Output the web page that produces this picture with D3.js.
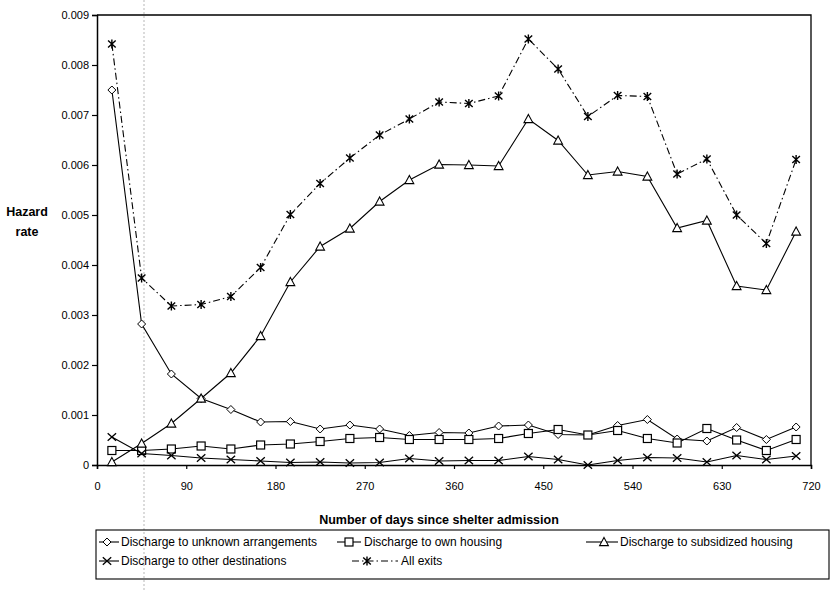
<!DOCTYPE html>
<html>
<head>
<meta charset="utf-8">
<script src="https://cdn.jsdelivr.net/npm/d3@7"></script>
<style>
  body { margin: 0; background: #fff; }
  svg { display: block; font-family: "Liberation Sans", Arial, sans-serif; }
</style>
</head>
<body>
<svg id="chart" width="834" height="590"></svg>
<script>
// Interval midpoints (days since shelter admission)
const days = [15, 45, 75, 105, 135, 165, 195, 225, 255, 285, 315, 345,
              375, 405, 435, 465, 495, 525, 555, 585, 615, 645, 675, 705];

// Hazard rates by exit type
const unknownArrangements = [0.0075, 0.00282, 0.00182, 0.00133, 0.00111, 0.00086, 0.00087, 0.00072,
                             0.00080, 0.00072, 0.00059, 0.00065, 0.00064, 0.00078, 0.00080, 0.00061,
                             0.00060, 0.00079, 0.00091, 0.00052, 0.00048, 0.00075, 0.00051, 0.00076];
const ownHousing = [0.00029, 0.00029, 0.00032, 0.00038, 0.00032, 0.00040, 0.00042, 0.00047,
                    0.00053, 0.00055, 0.00051, 0.00051, 0.00051, 0.00053, 0.00063, 0.00071,
                    0.00060, 0.00069, 0.00053, 0.00044, 0.00073, 0.00050, 0.00029, 0.00051];
const subsidizedHousing = [0.00006, 0.00043, 0.00083, 0.00133, 0.00184, 0.00258, 0.00366, 0.00437,
                           0.00473, 0.00527, 0.00570, 0.00601, 0.00600, 0.00598, 0.00692, 0.00649,
                           0.00580, 0.00587, 0.00577, 0.00474, 0.00489, 0.00358, 0.00350, 0.00467];
const otherDestinations = [0.00056, 0.00023, 0.00019, 0.00014, 0.00011, 0.00008, 0.00005, 0.00006,
                           0.00004, 0.00005, 0.00013, 0.00008, 0.00009, 0.00009, 0.00017, 0.00011,
                           0.00000, 0.00009, 0.00015, 0.00014, 0.00006, 0.00019, 0.00011, 0.00018];
const allExits = [0.00842, 0.00374, 0.00318, 0.00321, 0.00337, 0.00395, 0.00501, 0.00563,
                  0.00614, 0.00660, 0.00692, 0.00726, 0.00723, 0.00738, 0.00852, 0.00792,
                  0.00697, 0.00739, 0.00737, 0.00582, 0.00612, 0.00500, 0.00443, 0.00611];

const xTicks = [0, 90, 180, 270, 360, 450, 540, 630, 720];
const yTicks = [0, 0.001, 0.002, 0.003, 0.004, 0.005, 0.006, 0.007, 0.008, 0.009];

const seriesNames = ["Discharge to unknown arrangements", "Discharge to own housing",
                     "Discharge to subsidized housing", "Discharge to other destinations", "All exits"];
const seriesMarkers = ["diamond", "square", "triangle", "cross", "star"];
const seriesValues = [unknownArrangements, ownHousing, subsidizedHousing, otherDestinations, allExits];

const W = 834, H = 590;
const margin = { top: 15, right: 23, bottom: 125, left: 97 };
const svg = d3.select("#chart");

const x = d3.scaleLinear().domain([0, 720]).range([margin.left, W - margin.right]);
const y = d3.scaleLinear().domain([0, 0.009]).range([H - margin.bottom, margin.top]);

// Light vertical streak running down the page
svg.append("line")
  .attr("x1", 144).attr("x2", 144).attr("y1", 0).attr("y2", H)
  .attr("stroke", "#9a9a9a").attr("stroke-width", 1)
  .attr("stroke-dasharray", "2,2").attr("opacity", 0.7);

// Plot frame (top and right edges)
svg.append("path")
  .attr("d", `M${x(0)},${y(0.009)}H${x(720)}V${y(0)}`)
  .attr("fill", "none").attr("stroke", "#000").attr("stroke-width", 1.3);

// Axes
const yAxis = d3.axisLeft(y).tickValues(yTicks).tickSize(5).tickPadding(3)
  .tickFormat(d => d === 0 ? "0" : d3.format(".3f")(d));
const gy = svg.append("g").attr("transform", `translate(${x(0)},0)`).call(yAxis);

const xAxis = d3.axisBottom(x).tickValues(xTicks).tickSize(4).tickPadding(13)
  .tickFormat(d3.format("d"));
const gx = svg.append("g").attr("transform", `translate(0,${y(0)})`).call(xAxis);

[gx, gy].forEach(g => {
  g.select(".domain").attr("stroke", "#000").attr("stroke-width", 1.5);
  g.selectAll(".tick line").attr("stroke", "#000").attr("stroke-width", 1.2);
  g.selectAll(".tick text").attr("fill", "#000").attr("font-size", 11)
    .attr("font-family", "'Liberation Sans', Arial, sans-serif");
});

// Axis titles
svg.append("text").attr("x", 27).attr("y", 216).attr("text-anchor", "middle")
  .attr("font-size", 12.5).attr("font-weight", "bold").text("Hazard");
svg.append("text").attr("x", 27).attr("y", 236).attr("text-anchor", "middle")
  .attr("font-size", 12.5).attr("font-weight", "bold").text("rate");
svg.append("text").attr("x", 439).attr("y", 524).attr("text-anchor", "middle")
  .attr("font-size", 12.5).attr("font-weight", "bold").text("Number of days since shelter admission");

// Marker shapes
function drawMarker(g, type, cx, cy) {
  const s = g.append("g").attr("transform", `translate(${cx},${cy})`);
  if (type === "diamond") {
    s.append("path").attr("d", "M0,-4L4,0L0,4L-4,0Z")
      .attr("fill", "#fff").attr("stroke", "#000").attr("stroke-width", 1);
  } else if (type === "square") {
    s.append("rect").attr("x", -4).attr("y", -4).attr("width", 8).attr("height", 8)
      .attr("fill", "#fff").attr("stroke", "#000").attr("stroke-width", 1.2);
  } else if (type === "triangle") {
    s.append("path").attr("d", "M0,-4.6L4.4,3.6L-4.4,3.6Z")
      .attr("fill", "#fff").attr("stroke", "#000").attr("stroke-width", 1.1);
  } else if (type === "cross") {
    s.append("path").attr("d", "M-4.2,-3.8L4.2,3.8M-4.2,3.8L4.2,-3.8")
      .attr("stroke", "#000").attr("stroke-width", 1.3);
  } else if (type === "star") {
    s.append("path").attr("d", "M-3.8,-3.6L3.8,3.6M-3.8,3.6L3.8,-3.6M0,-4.6V4.6")
      .attr("stroke", "#000").attr("stroke-width", 1.4);
  }
}

const line = d3.line().x((d, i) => x(days[i])).y(d => y(d));

seriesValues.forEach((vals, k) => {
  const dashed = seriesMarkers[k] === "star";
  svg.append("path").datum(vals).attr("d", line)
    .attr("fill", "none").attr("stroke", "#000").attr("stroke-width", 1.1)
    .attr("stroke-dasharray", dashed ? "7,3,1.5,3" : null);
  const g = svg.append("g");
  vals.forEach((v, i) => drawMarker(g, seriesMarkers[k], x(days[i]), y(v)));
});

// Legend
const legend = svg.append("g");
legend.append("rect").attr("x", 96).attr("y", 530).attr("width", 733).attr("height", 49)
  .attr("fill", "none").attr("stroke", "#000").attr("stroke-width", 1.1);

const legendItems = [
  { k: 0, x0: 99, x1: 119, mx: 107, tx: 121, ty: 542 },
  { k: 1, x0: 337, x1: 361, mx: 349, tx: 364, ty: 542 },
  { k: 2, x0: 586, x1: 618, mx: 604, tx: 620, ty: 542 },
  { k: 3, x0: 99, x1: 119, mx: 107, tx: 121, ty: 561 },
  { k: 4, x0: 352, x1: 398, mx: 367, tx: 401, ty: 561 }
];
legendItems.forEach(it => {
  const dashed = seriesMarkers[it.k] === "star";
  legend.append("line").attr("x1", it.x0).attr("x2", it.x1).attr("y1", it.ty).attr("y2", it.ty)
    .attr("stroke", "#000").attr("stroke-width", 1.1)
    .attr("stroke-dasharray", dashed ? "7,3,1.5,3" : null);
  drawMarker(legend, seriesMarkers[it.k], it.mx, it.ty);
  legend.append("text").attr("x", it.tx).attr("y", it.ty).attr("dy", "0.35em")
    .attr("font-size", 12).attr("fill", "#000").text(seriesNames[it.k]);
});
</script>
</body>
</html>
